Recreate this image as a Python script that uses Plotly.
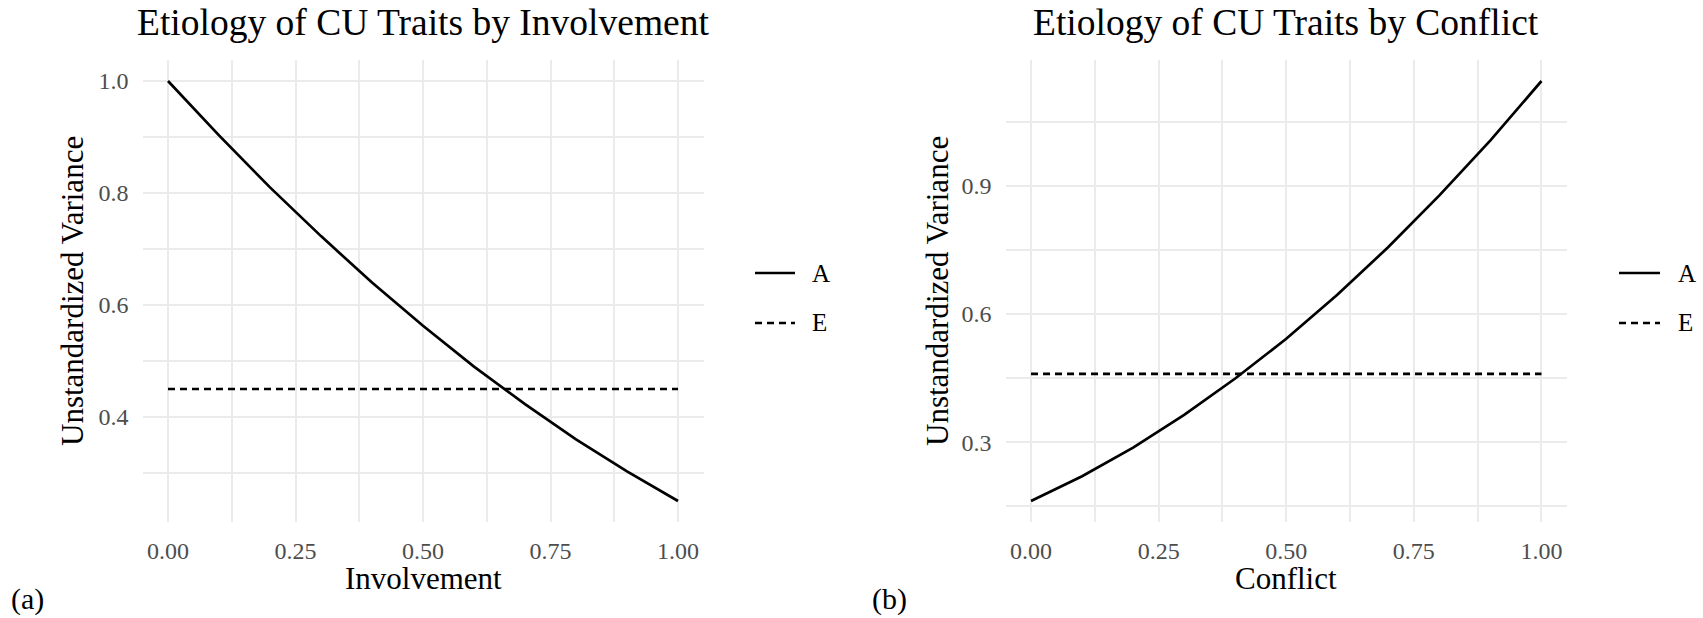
import plotly.graph_objects as go

# ---- data ----
x_vals = [0.0, 0.1, 0.2, 0.3, 0.4, 0.5, 0.6, 0.7, 0.8, 0.9, 1.0]
inv_A = [1.000, 0.903, 0.810, 0.723, 0.640, 0.563, 0.490, 0.423, 0.360, 0.303, 0.250]
inv_E = [0.45, 0.45]
con_A = [0.162, 0.220, 0.287, 0.364, 0.449, 0.542, 0.645, 0.757, 0.878, 1.007, 1.146]
con_E = [0.46, 0.46]
e_x = [0.0, 1.0]

x_ticks = [0.0, 0.25, 0.5, 0.75, 1.0]
x_ticklabels = ["0.00", "0.25", "0.50", "0.75", "1.00"]
x_minor = [0.125, 0.375, 0.625, 0.875]
inv_y_ticks = [0.4, 0.6, 0.8, 1.0]
inv_y_ticklabels = ["0.4", "0.6", "0.8", "1.0"]
inv_y_minor = [0.3, 0.5, 0.7, 0.9]
con_y_ticks = [0.3, 0.6, 0.9]
con_y_ticklabels = ["0.3", "0.6", "0.9"]
con_y_minor = [0.15, 0.45, 0.75, 1.05]
legend_names = ["A", "E"]

W, H = 1703, 618
FONT = "Liberation Serif"
GRID = "#ebebeb"

def px_x(p):
    return p / W

def px_y(p):
    return 1 - p / H

fig = go.Figure()

LW = 2.7
DASH = "7px,5px"
line_a = dict(color="black", width=LW)
line_e = dict(color="black", width=LW, dash=DASH)

fig.add_trace(go.Scatter(x=x_vals, y=inv_A, mode="lines", name="A", line=line_a,
                         xaxis="x", yaxis="y", showlegend=False))
fig.add_trace(go.Scatter(x=e_x, y=inv_E, mode="lines", name="E", line=line_e,
                         xaxis="x", yaxis="y", showlegend=False))
fig.add_trace(go.Scatter(x=x_vals, y=con_A, mode="lines", name="A", line=line_a,
                         xaxis="x2", yaxis="y2", showlegend=False))
fig.add_trace(go.Scatter(x=e_x, y=con_E, mode="lines", name="E", line=line_e,
                         xaxis="x2", yaxis="y2", showlegend=False))

plot_top, plot_bot = 60, 522
ydom = [px_y(plot_bot), px_y(plot_top)]

def xaxis(domain, anchor):
    return dict(domain=domain, anchor=anchor, range=[-0.05, 1.05],
                tickmode="array", tickvals=x_ticks, ticktext=x_ticklabels,
                showgrid=True, gridcolor=GRID, gridwidth=2.2,
                minor=dict(tickmode="array", tickvals=x_minor, showgrid=True,
                           gridcolor=GRID, gridwidth=1.6),
                zeroline=False, showline=False, ticks="",
                ticklabelstandoff=12,
                tickfont=dict(family=FONT, size=24, color="#4d4d4d"))

def yaxis(rng, tv, tt, mv, anchor):
    return dict(domain=ydom, anchor=anchor, range=rng,
                tickmode="array", tickvals=tv, ticktext=tt,
                showgrid=True, gridcolor=GRID, gridwidth=2.2,
                minor=dict(tickmode="array", tickvals=mv, showgrid=True,
                           gridcolor=GRID, gridwidth=1.6),
                zeroline=False, showline=False, ticks="",
                ticklabelstandoff=13,
                tickfont=dict(family=FONT, size=24, color="#4d4d4d"))

fig.update_layout(
    width=W, height=H, autosize=False,
    margin=dict(l=0, r=0, t=0, b=0),
    paper_bgcolor="white", plot_bgcolor="white",
    font=dict(family=FONT, color="black"),
    showlegend=False,
    xaxis=xaxis([px_x(142.5), px_x(703.5)], "y"),
    yaxis=yaxis([0.2125, 1.0375], inv_y_ticks, inv_y_ticklabels, inv_y_minor, "x"),
    xaxis2=xaxis([px_x(1005.5), px_x(1567)], "y2"),
    yaxis2=yaxis([0.1128, 1.1952], con_y_ticks, con_y_ticklabels, con_y_minor, "x2"),
)

ann = []
def text(t, x, y, size, angle=0, xanchor="center"):
    ann.append(dict(text=t, x=px_x(x), y=px_y(y), xref="paper", yref="paper",
                    showarrow=False, xanchor=xanchor, yanchor="middle",
                    textangle=angle, font=dict(family=FONT, size=size, color="black")))

text("Etiology of CU Traits by Involvement", 423, 22, 37.5)
text("Etiology of CU Traits by Conflict", 1286, 22, 37.5)
text("Involvement", 423, 578, 31)
text("Conflict", 1286, 578, 31)
text("Unstandardized Variance", 72, 291, 31, angle=-90)
text("Unstandardized Variance", 937, 291, 31, angle=-90)
text("(a)", 9, 599, 30, xanchor="left")
text("(b)", 870, 599, 30, xanchor="left")

# legend keys (one per panel)
shapes = []
legend_rows = [273, 323]
for (lx0, lx1, tx) in [(755, 795, 810), (1619, 1660, 1676)]:
    for name, ly in zip(legend_names, legend_rows):
        shapes.append(dict(type="line", xref="paper", yref="paper",
                           x0=px_x(lx0), x1=px_x(lx1), y0=px_y(ly), y1=px_y(ly),
                           line=dict(color="black", width=LW,
                                     dash="solid" if name == "A" else DASH)))
        text(name, tx, ly, 25, xanchor="left")

fig.update_layout(annotations=ann, shapes=shapes)

fig.write_html(
    "out.html",
    config={"displayModeBar": False},
    post_script="document.body.style.margin='0';document.body.style.padding='0';"
                "document.body.style.overflow='hidden';"
                "document.documentElement.style.overflow='hidden';",
)
